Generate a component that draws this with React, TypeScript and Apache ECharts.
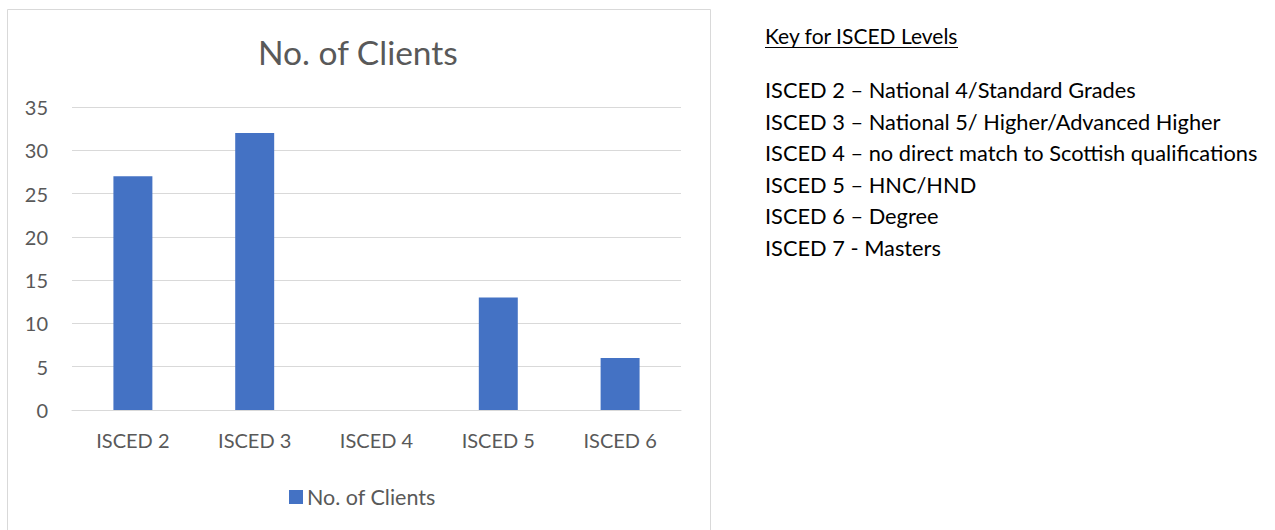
import React, { useEffect, useRef } from "react";
import * as echarts from "echarts";

const categories = ["ISCED 2", "ISCED 3", "ISCED 4", "ISCED 5", "ISCED 6"];
const clients = [27, 32, 0, 13, 6];
const seriesName = "No. of Clients";
const chartTitle = "No. of Clients";
const keyHeading = "Key for ISCED Levels";
const keyLines = [
  "ISCED 2 \u2013 National 4/Standard Grades",
  "ISCED 3 \u2013 National 5/ Higher/Advanced Higher",
  "ISCED 4 \u2013 no direct match to Scottish qualifications",
  "ISCED 5 \u2013 HNC/HND",
  "ISCED 6 \u2013 Degree",
  "ISCED 7 - Masters",
];

const FONT = "Lato, 'Open Sans', sans-serif";
const GREY = "#595959";

export default function App() {
  const ref = useRef<HTMLDivElement>(null);
  useEffect(() => {
    if (!ref.current) return;
    const chart = echarts.init(ref.current, undefined, { renderer: "svg" });
    const keyElements: any[] = keyLines.map((t, i) => ({
      type: "text",
      x: 765,
      y: 89.5 + i * 31.5,
      style: {
        text: t,
        fill: "#000",
        font: `21.8px ${FONT}`,
        textVerticalAlign: "middle",
      },
    }));
    chart.setOption({
      animation: false,
      backgroundColor: "#fff",
      textStyle: { fontFamily: FONT },
      title: {
        text: chartTitle,
        left: 258,
        top: 35,
        padding: 0,
        textStyle: { fontSize: 33.5, fontWeight: "normal", color: GREY, fontFamily: FONT },
      },
      legend: {
        data: [seriesName],
        left: 289,
        top: 486,
        padding: 0,
        icon: "rect",
        itemWidth: 14,
        itemHeight: 14,
        itemGap: 6,
        textStyle: { fontSize: 21.5, color: GREY, fontFamily: FONT, padding: [0, 0, 0, -1] },
      },
      grid: { left: 72, right: 1275 - 681, top: 107, bottom: 530 - 410, containLabel: false },
      xAxis: {
        type: "category",
        data: categories,
        axisLine: { lineStyle: { color: "#d9d9d9", width: 1 } },
        axisTick: { show: false },
        axisLabel: { color: GREY, fontSize: 20, margin: 20, fontFamily: FONT },
      },
      yAxis: {
        type: "value",
        min: 0,
        max: 35,
        interval: 5,
        axisLine: { show: false },
        axisTick: { show: false },
        axisLabel: { color: GREY, fontSize: 20, margin: 24, fontFamily: FONT },
        splitLine: { lineStyle: { color: "#d9d9d9", width: 1 } },
      },
      series: [
        {
          name: seriesName,
          type: "bar",
          data: clients,
          barWidth: "32%",
          itemStyle: { color: "#4472C4" },
        },
      ],
      graphic: [
        {
          type: "rect",
          shape: { x: 7.5, y: 9.5, width: 703, height: 540 },
          style: { fill: "none", stroke: "#d9d9d9", lineWidth: 1 },
          silent: true,
        },
        {
          type: "text",
          x: 765,
          y: 35,
          style: {
            text: keyHeading,
            fill: "#000",
            font: `21px ${FONT}`,
            textVerticalAlign: "middle",
          },
        },
        {
          type: "line",
          shape: { x1: 765, y1: 47.5, x2: 958, y2: 47.5 },
          style: { stroke: "#000", lineWidth: 1.2 },
        },
        ...keyElements,
      ],
    });
    return () => chart.dispose();
  }, []);
  return (
    <div
      ref={ref}
      style={{ position: "absolute", left: 0, top: 0, width: 1275, height: 530 }}
    />
  );
}
